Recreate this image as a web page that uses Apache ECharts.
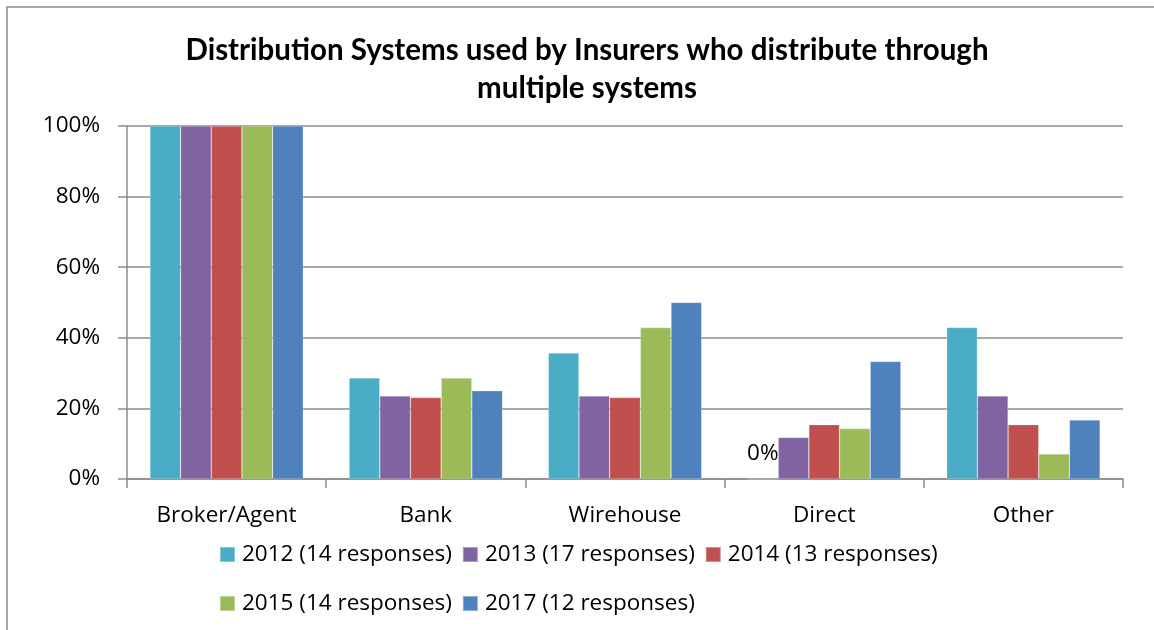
<!DOCTYPE html>
<html>
<head>
<meta charset="utf-8">
<script src="https://cdn.jsdelivr.net/npm/echarts@6/dist/echarts.min.js"></script>
<style>
  html, body { margin: 0; padding: 0; background: #fff; }
  #chart { width: 1154px; height: 630px; }
</style>
</head>
<body>
<div id="chart"></div>
<script>
  // categories + series values (percent)
  const categories = ['Broker/Agent', 'Bank', 'Wirehouse', 'Direct', 'Other']
  const seriesNames = ['2012 (14 responses)', '2013 (17 responses)', '2014 (13 responses)', '2015 (14 responses)', '2017 (12 responses)']
  const data2012 = [100, 28.6, 35.7, 0, 42.9]
  const data2013 = [100, 23.5, 23.5, 11.8, 23.5]
  const data2014 = [100, 23.1, 23.1, 15.4, 15.4]
  const data2015 = [100, 28.6, 42.9, 14.3, 7.1]
  const data2017 = [100, 25.0, 50.0, 33.3, 16.7]
  const yTicks = [0, 20, 40, 60, 80, 100]

  const colors = ['#4BACC6', '#8064A2', '#C0504D', '#9BBB59', '#4F81BD']
  const font = '"Open Sans", Lato, sans-serif'
  const titleFont = 'Lato, "Open Sans", sans-serif'
  const allData = [data2012, data2013, data2014, data2015, data2017]

  // only the zero value gets a data label (like the original)
  const makeData = arr => arr.map(v => v === 0 ? { value: v, label: { show: true } } : v)

  const legendStyle = {
    itemWidth: 15, itemHeight: 15, itemGap: 10,
    icon: 'rect',
    textStyle: { fontFamily: font, fontSize: 22.5, color: '#000', padding: [0, 0, 0, 2] }
  }

  const chart = echarts.init(document.getElementById('chart'))
  const option = {
    animation: false,
    color: colors,
    textStyle: { fontFamily: font },
    title: {
      text: 'Distribution Systems used by Insurers who distribute through\nmultiple systems',
      left: 582,
      textAlign: 'center',
      top: 26,
      textStyle: { fontFamily: titleFont, fontSize: 29.5, fontWeight: 'bold', color: '#000', lineHeight: 38 }
    },
    graphic: [{
      type: 'rect',
      shape: { x: 7, y: 7, width: 1170, height: 650 },
      style: { fill: 'none', stroke: '#8c8c8c', lineWidth: 1.5 },
      silent: true
    }],
    legend: [
      Object.assign({ data: seriesNames.slice(0, 3), left: 214, top: 538 }, legendStyle),
      Object.assign({ data: seriesNames.slice(3), left: 214, top: 587 }, legendStyle)
    ],
    grid: { left: 127, right: 31, top: 126, bottom: 151, containLabel: false },
    xAxis: {
      type: 'category',
      data: categories,
      axisLine: { lineStyle: { color: '#8c8c8c', width: 1.5 } },
      axisTick: { show: true, length: 9, lineStyle: { color: '#8c8c8c', width: 1.5 } },
      axisLabel: { fontFamily: font, fontSize: 22.5, color: '#000', margin: 25 }
    },
    yAxis: {
      type: 'value',
      min: yTicks[0],
      max: yTicks[yTicks.length - 1],
      interval: 20,
      axisLine: { show: true, lineStyle: { color: '#8c8c8c', width: 1.5 } },
      axisTick: { show: true, length: 9, lineStyle: { color: '#8c8c8c', width: 1.5 } },
      splitLine: { lineStyle: { color: '#8c8c8c', width: 1.5 } },
      axisLabel: { fontFamily: font, fontSize: 22.5, color: '#000', margin: 27, formatter: '{value}%' }
    },
    series: seriesNames.map((name, i) => ({
      name: name,
      type: 'bar',
      data: makeData(allData[i]),
      barGap: '0%',
      barCategoryGap: '23%',
      itemStyle: { borderColor: 'rgba(255,255,255,0.35)', borderWidth: 0.6 },
      label: {
        show: false,
        position: 'top',
        distance: 14,
        formatter: '{c}%',
        fontFamily: font,
        fontSize: 22.5,
        color: '#000'
      }
    }))
  }
  chart.setOption(option)
</script>
</body>
</html>
